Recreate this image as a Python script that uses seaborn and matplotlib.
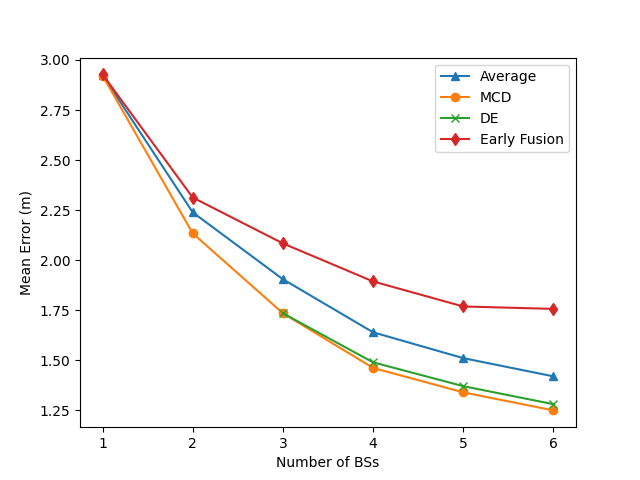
import matplotlib
matplotlib.use("Agg")
import matplotlib.pyplot as plt
import seaborn as sns
import pandas as pd

num_bs = [1, 2, 3, 4, 5, 6]
average = [2.925, 2.239, 1.905, 1.640, 1.511, 1.420]
mcd = [2.922, 2.134, 1.735, 1.462, 1.340, 1.250]
de_x = [3, 4, 5, 6]
de = [1.735, 1.490, 1.371, 1.281]
early_fusion = [2.928, 2.313, 2.084, 1.894, 1.769, 1.757]

fig, ax = plt.subplots(figsize=(6.4, 4.8), dpi=100)

series = [
    ("Average", num_bs, average, "^", "#1f77b4"),
    ("MCD", num_bs, mcd, "o", "#ff7f0e"),
    ("DE", de_x, de, "x", "#2ca02c"),
    ("Early Fusion", num_bs, early_fusion, "d", "#d62728"),
]
for name, xs, ys, mk, c in series:
    df = pd.DataFrame({"x": xs, "y": ys})
    sns.lineplot(data=df, x="x", y="y", marker=mk, color=c, label=name,
                 markeredgecolor=c, markeredgewidth=1, markersize=6, ax=ax)

ax.set_xlabel("Number of BSs")
ax.set_ylabel("Mean Error (m)")
ax.legend(loc="upper right")
fig.savefig("out.png", dpi=100)
